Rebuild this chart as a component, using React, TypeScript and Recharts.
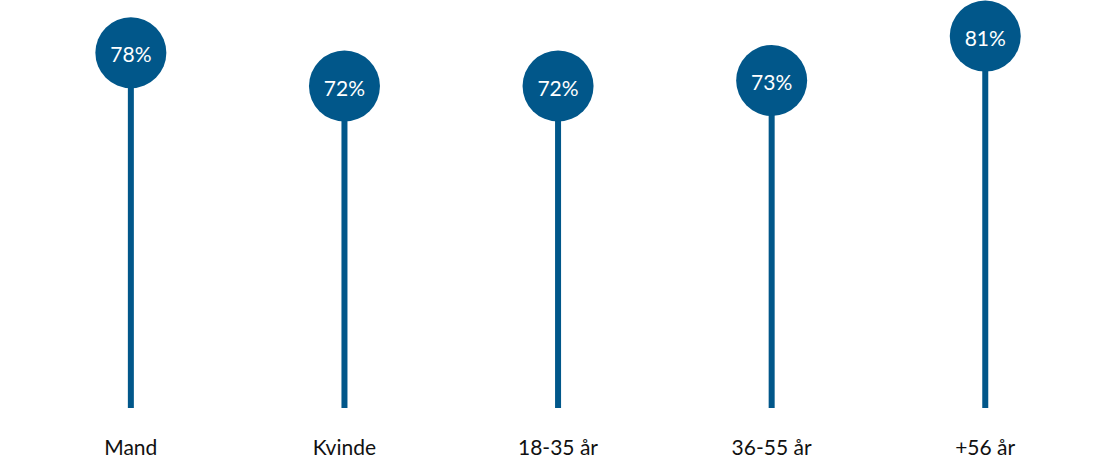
import { ComposedChart, Bar, XAxis, YAxis } from 'recharts'

const categories = ['Mand', 'Kvinde', '18-35 år', '36-55 år', '+56 år']
const shares = [78, 72, 72, 73, 81]

const data = categories.map((name, i) => ({ name, value: shares[i] }))

const BLUE = '#01578a'
const FONT = 'Lato, "Open Sans", sans-serif'

function Lollipop(props: any) {
  const { x, y, width, height, value } = props
  const cx = x + width / 2
  return (
    <g>
      <rect x={cx - 3} y={y} width={6} height={height} fill={BLUE} />
      <circle cx={cx} cy={y} r={35.5} fill={BLUE} />
      <text
        x={cx}
        y={y + 1}
        textAnchor="middle"
        dominantBaseline="central"
        fill="#fff"
        fontSize={21}
        fontFamily={FONT}
      >
        {value}%
      </text>
    </g>
  )
}

export default function App() {
  return (
    <div style={{ position: 'absolute', top: 0, left: 0, background: '#fff' }}>
      <style>{'.recharts-surface { overflow: visible; }'}</style>
      <ComposedChart
        width={1119}
        height={471}
        data={data}
        margin={{ top: 0, right: 27, bottom: 0, left: 24 }}
      >
        <XAxis
          dataKey="name"
          axisLine={false}
          tickLine={false}
          height={63}
          tickMargin={26}
          tick={{ fill: '#111', fontSize: 21, fontFamily: FONT }}
        />
        <YAxis hide domain={[14, 87.5]} type="number" />
        <Bar dataKey="value" shape={<Lollipop />} isAnimationActive={false} />
      </ComposedChart>
    </div>
  )
}
